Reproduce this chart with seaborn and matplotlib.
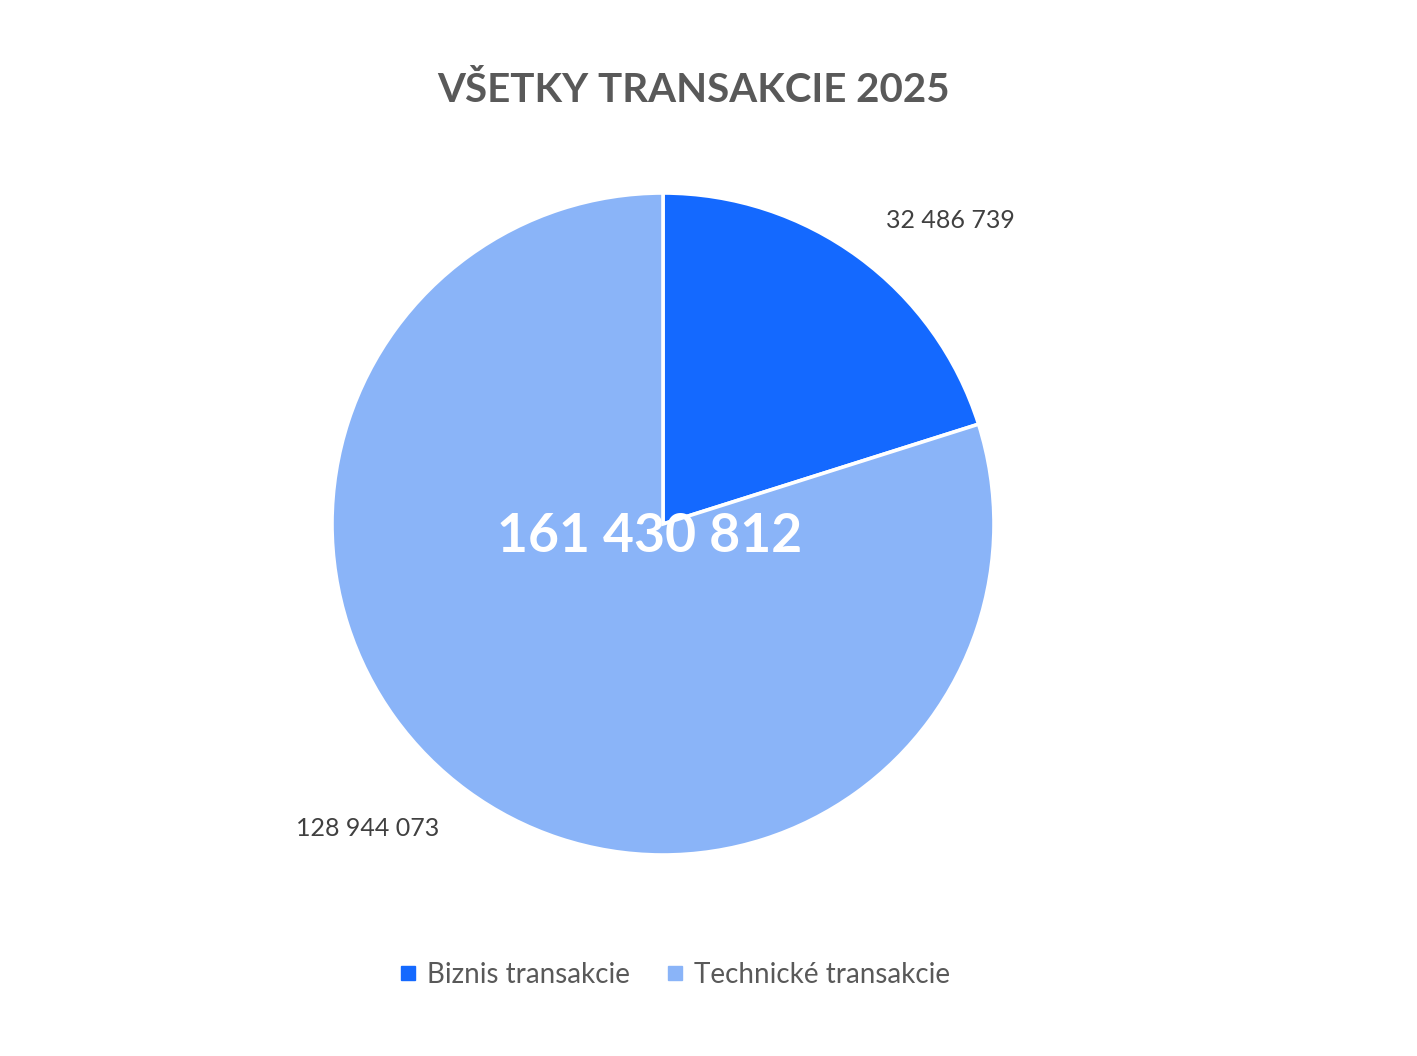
import matplotlib
matplotlib.use("Agg")
import matplotlib.pyplot as plt
from matplotlib.lines import Line2D
import seaborn as sns

categories = ["Biznis transakcie", "Technické transakcie"]
values = [32486739, 128944073]
total_label = "161 430 812"
value_labels = ["32 486 739", "128 944 073"]
title = "VŠETKY TRANSAKCIE 2025"
colors = ["#1469FF", "#8AB4F8"]

sns.set_theme(style="white")
plt.rcParams['font.family'] = ['Lato', 'DejaVu Sans']

W, H = 1417, 1056
fig = plt.figure(figsize=(W / 100, H / 100), dpi=100)
ax = fig.add_axes([0, 0, 1, 1])
ax.set_xlim(0, W)
ax.set_ylim(0, H)
ax.set_aspect('equal')
ax.axis('off')

cx, cy, r = 663, H - 524, 331
ax.pie(values, colors=colors, startangle=90, counterclock=False,
       center=(cx, cy), radius=r, frame=True,
       wedgeprops=dict(edgecolor='white', linewidth=2.6))
ax.set_xlim(0, W)
ax.set_ylim(0, H)
ax.axis('off')

gray = "#404040"
ax.text(950, H - 221, value_labels[0], ha='center', va='center', fontsize=18, color=gray)
ax.text(368, H - 829, value_labels[1], ha='center', va='center', fontsize=18, color=gray)
ax.text(650, H - 537, total_label, ha='center', va='center', fontsize=38.5,
        fontweight='bold', color='white')
ax.text(694, H - 90, title, ha='center', va='center', fontsize=29,
        fontweight='bold', color="#595959")

handles = [Line2D([], [], marker='s', linestyle='none', markersize=10,
                  markerfacecolor=c, markeredgecolor=c) for c in colors]
leg = fig.legend(handles, categories, loc='center', bbox_to_anchor=(672 / W, 1 - 975 / H),
                 ncol=2, frameon=False, fontsize=20, handletextpad=0.2,
                 columnspacing=1.1, handlelength=1.0)
for t in leg.get_texts():
    t.set_color("#595959")

fig.savefig("out.png", dpi=100)
